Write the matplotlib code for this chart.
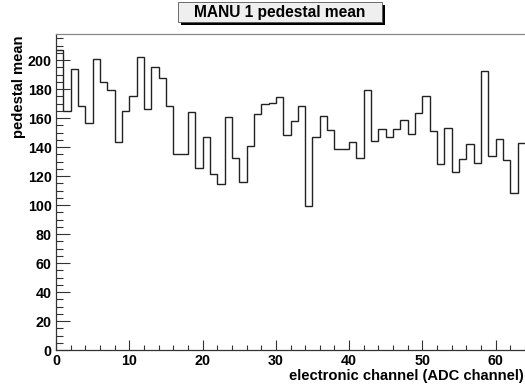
import numpy as np
import matplotlib
matplotlib.use("Agg")
import matplotlib.pyplot as plt
from matplotlib.patches import Rectangle
from matplotlib.ticker import MultipleLocator

channels = list(range(64))
pedestal_mean = [207, 165, 194, 168, 156.5, 200.5, 185, 179.5, 143.5, 165,
                 175, 202, 166, 195, 187.5, 168, 135, 135, 164, 125.5,
                 147, 121.5, 114.5, 160.5, 132.5, 116, 141, 163, 169.5, 170.5,
                 174.5, 148.5, 158, 168, 99, 147, 161.5, 151.5, 139, 139,
                 143.5, 132.5, 179.5, 144.5, 152.5, 147, 152.5, 158.5, 149, 163.5,
                 175.5, 151, 128.5, 153, 123, 131.5, 142, 129, 192.5, 134,
                 145.5, 131, 108.5, 143]
title = "MANU 1 pedestal mean"
xlabel = "electronic channel (ADC channel)"
ylabel = "pedestal mean"

plt.rcParams['font.family'] = ['Liberation Sans', 'DejaVu Sans']
plt.rcParams['font.weight'] = 'bold'

W, H = 525, 387
fig = plt.figure(figsize=(W/100, H/100), dpi=100)
ax = fig.add_axes([56/W, (H-350)/H, (W-56)/W, (350-34)/H])

edges = np.arange(len(channels) + 1)
ax.stairs(pedestal_mean, edges, color='#222222', linewidth=1.0, baseline=None)

ax.set_xlim(0, 64)
ax.set_ylim(0, 218)
ax.xaxis.set_major_locator(MultipleLocator(10))
ax.xaxis.set_minor_locator(MultipleLocator(2))
ax.yaxis.set_major_locator(MultipleLocator(20))
ax.yaxis.set_minor_locator(MultipleLocator(5))
ax.tick_params(axis='y', which='major', direction='in', length=10, width=0.8, pad=3, labelsize=10.3, color='#333333')
ax.tick_params(axis='y', which='minor', direction='in', length=5, width=0.8, color='#333333')
ax.tick_params(axis='x', which='major', direction='in', length=7, width=0.8, pad=3, labelsize=10.3, color='#333333')
ax.tick_params(axis='x', which='minor', direction='in', length=3.5, width=0.8, color='#333333')
for lab in ax.get_xticklabels() + ax.get_yticklabels():
    lab.set_fontweight('bold')
for s in ['left', 'bottom', 'top']:
    ax.spines[s].set_color('#333333')
    ax.spines[s].set_linewidth(0.9)
ax.spines['top'].set_color('#888888')
ax.spines['right'].set_visible(False)

fig.text(524/W, 1 - 380/H, xlabel, ha='right', va='baseline', fontsize=10.6, fontweight='bold')
fig.text(19/W, 1 - 35/H, ylabel, ha='center', va='top', rotation=90, fontsize=10.6, fontweight='bold')

# title box with shadow
bx0, bx1, by0, by1 = 178, 382, 2, 22
fig.patches.append(Rectangle((bx0/W + 3/W, 1 - (by1 + 3)/H), (bx1 - bx0)/W, (by1 - by0)/H,
                             transform=fig.transFigure, facecolor='black', edgecolor='none'))
fig.patches.append(Rectangle((bx0/W, 1 - by1/H), (bx1 - bx0)/W, (by1 - by0)/H,
                             transform=fig.transFigure, facecolor='#efefef', edgecolor='#555555', linewidth=0.6))
fig.text((bx0 + bx1)/2/W, 1 - (by0 + by1 + 1)/2/H, title, ha='center', va='center', fontsize=11.2, fontweight='bold')

fig.savefig('out.png', dpi=100)
